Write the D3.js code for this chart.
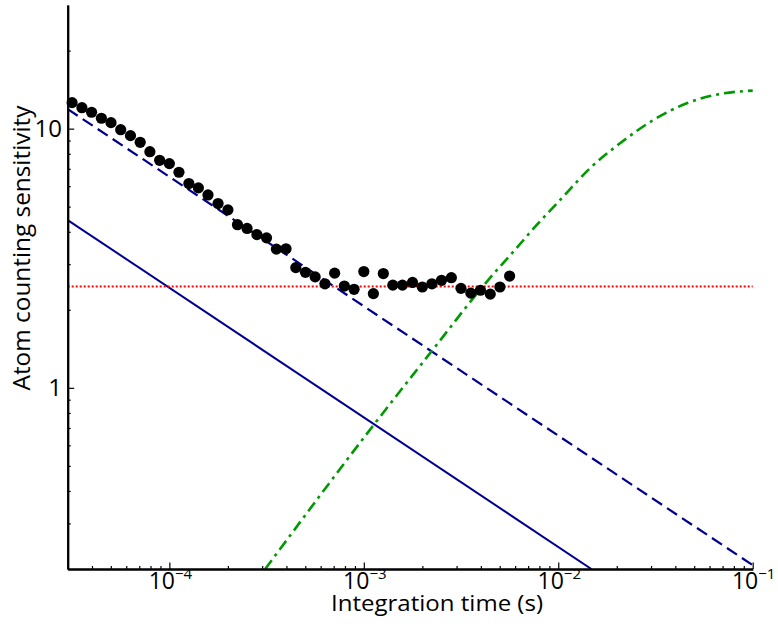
<!DOCTYPE html>
<html>
<head>
<meta charset="utf-8">
<script src="https://cdn.jsdelivr.net/npm/d3@7"></script>
<style>
  html, body { margin: 0; padding: 0; background: #fff; }
  svg { display: block; }
  text { font-family: "Open Sans", "Noto Sans", sans-serif; fill: #000; }
</style>
</head>
<body>
<svg id="chart" width="778" height="633"></svg>
<script>
// ---- data ----
const times = [3.16e-5, 3.55e-5, 3.98e-5, 4.47e-5, 5.01e-5, 5.62e-5, 6.31e-5, 7.08e-5, 7.94e-5, 8.91e-5,
               1.00e-4, 1.12e-4, 1.26e-4, 1.41e-4, 1.58e-4, 1.78e-4, 2.00e-4, 2.24e-4, 2.51e-4, 2.82e-4,
               3.16e-4, 3.55e-4, 3.98e-4, 4.47e-4, 5.01e-4, 5.62e-4, 6.31e-4, 7.08e-4, 7.94e-4, 8.91e-4,
               1.00e-3, 1.12e-3, 1.26e-3, 1.41e-3, 1.58e-3, 1.78e-3, 2.00e-3, 2.24e-3, 2.51e-3, 2.82e-3,
               3.16e-3, 3.55e-3, 3.98e-3, 4.47e-3, 5.01e-3, 5.62e-3];
const sensitivity = [12.60, 12.05, 11.57, 10.97, 10.55, 9.91, 9.40, 8.86, 8.15, 7.55,
                     7.33, 6.79, 6.14, 5.91, 5.55, 5.14, 4.86, 4.26, 4.12, 3.90,
                     3.79, 3.43, 3.44, 2.91, 2.79, 2.68, 2.52, 2.77, 2.47, 2.40,
                     2.81, 2.31, 2.76, 2.49, 2.49, 2.55, 2.45, 2.52, 2.60, 2.66,
                     2.42, 2.32, 2.38, 2.30, 2.45, 2.70];

// dashed blue line (end points)
const dashedT = [3e-5, 0.1];
const dashedS = [11.9, 0.207];
// solid blue line (end points)
const solidT = [3e-5, 0.0148];
const solidS = [4.44, 0.2];
// red dotted horizontal level
const levelT = [3e-5, 0.1];
const levelS = [2.46, 2.46];
// green dash-dot curve
const driftT = [3.11e-4, 1.143e-3, 2.26e-3, 4.37e-3, 5.88e-3, 7.75e-3, 1.042e-2, 1.457e-2,
                2.078e-2, 3.083e-2, 4.58e-2, 6.79e-2, 0.1];
const driftS = [0.2, 0.731, 1.401, 2.61, 3.355, 4.25, 5.39, 7.04, 8.78, 10.80, 12.53, 13.61, 14.02];

// ticks
const xMajor = [1e-4, 1e-3, 1e-2, 1e-1];
const xMajorLabels = ["\u22124", "\u22123", "\u22122", "\u22121"];
const xMinor = [4e-5,5e-5,6e-5,7e-5,8e-5,9e-5,
                2e-4,3e-4,4e-4,5e-4,6e-4,7e-4,8e-4,9e-4,
                2e-3,3e-3,4e-3,5e-3,6e-3,7e-3,8e-3,9e-3,
                2e-2,3e-2,4e-2,5e-2,6e-2,7e-2,8e-2,9e-2];
const yMajor = [1, 10];
const yMajorLabels = ["1", "10"];
const yMinor = [0.3,0.4,0.5,0.6,0.7,0.8,0.9,2,3,4,5,6,7,8,9,20];

const xTitle = "Integration time (s)";
const yTitle = "Atom counting sensitivity";

// ---- drawing ----
const svg = d3.select("#chart");
const L = 67.7, R = 752.7, T = 5, B = 569;
const x = d3.scaleLog().domain([3e-5, 0.1]).range([L, R]);
const y = d3.scaleLog().domain([0.2, 30]).range([B, T]);

svg.append("defs").append("clipPath").attr("id", "plotclip")
  .append("rect").attr("x", L).attr("y", T).attr("width", R - L + 2).attr("height", B - T);

const plot = svg.append("g").attr("clip-path", "url(#plotclip)");

function pts(ts, ss) { return ts.map((t, i) => [t, ss[i]]); }
const straight = d3.line().x(d => x(d[0])).y(d => y(d[1]));
const smooth = d3.line().x(d => x(d[0])).y(d => y(d[1])).curve(d3.curveMonotoneX);

plot.append("path").datum(pts(solidT, solidS)).attr("d", straight)
  .attr("fill", "none").attr("stroke", "#000090").attr("stroke-width", 2);
plot.append("path").datum(pts(dashedT, dashedS)).attr("d", straight)
  .attr("fill", "none").attr("stroke", "#000090").attr("stroke-width", 2.2)
  .attr("stroke-dasharray", "12,6");
plot.append("path").datum(pts(levelT, levelS)).attr("d", straight)
  .attr("fill", "none").attr("stroke", "#ff0000").attr("stroke-width", 2.2)
  .attr("stroke-dasharray", "2,2");
plot.append("path").datum(pts(driftT, driftS)).attr("d", smooth)
  .attr("fill", "none").attr("stroke", "#009900").attr("stroke-width", 2.6)
  .attr("stroke-dasharray", "11,5,3,5");

svg.append("g").selectAll("circle").data(pts(times, sensitivity)).join("circle")
  .attr("cx", d => x(d[0])).attr("cy", d => y(d[1])).attr("r", 5.6).attr("fill", "#000");

// axes
const xAxisMinor = d3.axisBottom(x).tickValues(xMinor).tickSize(-3).tickSizeOuter(0).tickFormat("");
const xAxisMajor = d3.axisBottom(x).tickValues(xMajor).tickSize(-6.5).tickSizeOuter(0).tickFormat("");
const yAxisMinor = d3.axisLeft(y).tickValues(yMinor).tickSize(-3).tickSizeOuter(0).tickFormat("");
const yAxisMajor = d3.axisLeft(y).tickValues(yMajor).tickSize(-6.5).tickSizeOuter(0).tickFormat("");

function styleAxis(g) {
  g.select(".domain").attr("stroke", "#000").attr("stroke-width", 2);
  g.selectAll(".tick line").attr("stroke", "#000").attr("stroke-width", 1.2);
}
svg.append("g").attr("transform", `translate(0,${B})`).call(xAxisMinor).call(styleAxis);
svg.append("g").attr("transform", `translate(0,${B})`).call(xAxisMajor).call(styleAxis);
svg.append("g").attr("transform", `translate(${L},0)`).call(yAxisMinor).call(styleAxis);
svg.append("g").attr("transform", `translate(${L},0)`).call(yAxisMajor).call(styleAxis);

// x tick labels 10^n
xMajor.forEach((v, i) => {
  const t = svg.append("text").attr("x", x(v) + 1).attr("y", 589)
    .attr("text-anchor", "middle").attr("font-size", 23);
  t.append("tspan").text("10");
  t.append("tspan").attr("dy", -10).attr("font-size", 15).text(xMajorLabels[i]);
});
// y tick labels
yMajor.forEach((v, i) => {
  svg.append("text").attr("x", 62).attr("y", y(v)).attr("dy", "0.36em")
    .attr("text-anchor", "end").attr("font-size", 24).text(yMajorLabels[i]);
});

// titles, compressed to the reference widths
svg.append("text").attr("x", 437).attr("y", 611)
  .attr("text-anchor", "middle").attr("font-size", 22.5)
  .attr("textLength", 212).attr("lengthAdjust", "spacingAndGlyphs").text(xTitle);
svg.append("text").attr("transform", "translate(30,248) rotate(-90)")
  .attr("text-anchor", "middle").attr("font-size", 24.5)
  .attr("textLength", 285).attr("lengthAdjust", "spacingAndGlyphs").text(yTitle);
</script>
</body>
</html>
